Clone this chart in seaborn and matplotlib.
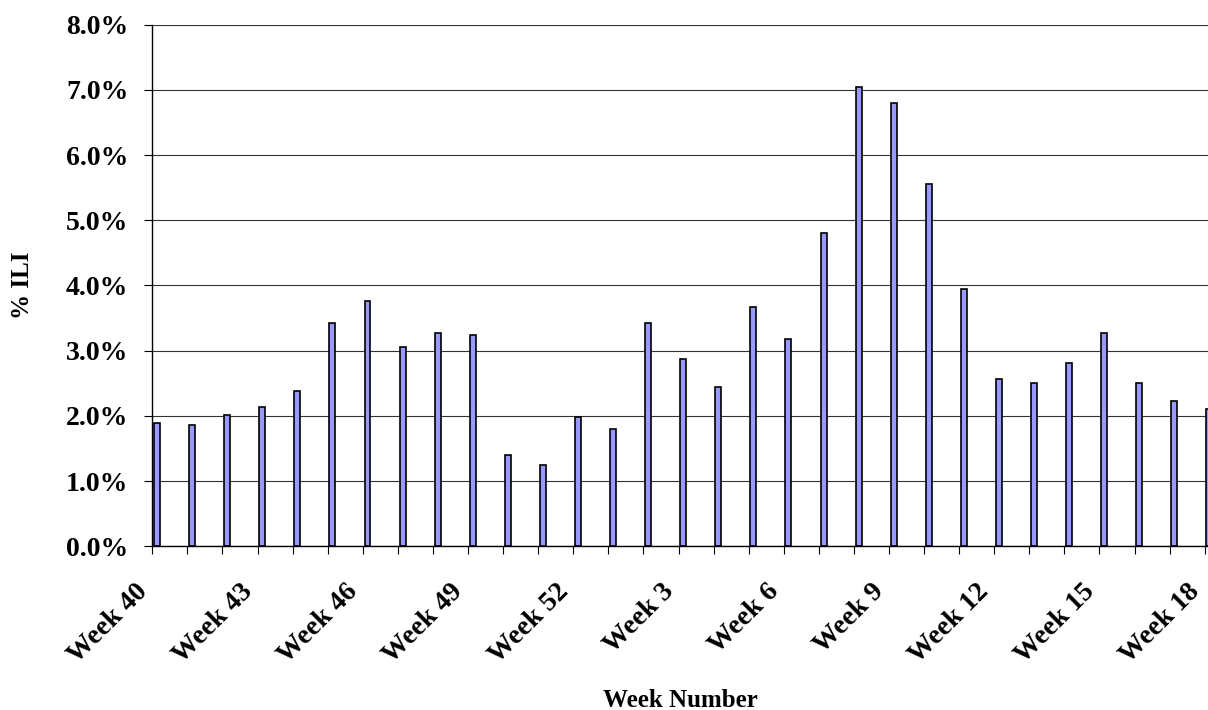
import numpy as np
import pandas as pd
import seaborn as sns
import matplotlib.pyplot as plt
from matplotlib.transforms import ScaledTranslation

# weekly % ILI, flu season week 40 -> week 18
weeks = [f"Week {w}" for w in range(40, 53)] + [f"Week {w}" for w in range(1, 19)]
ili_pct = [1.89, 1.86, 2.01, 2.13, 2.38, 3.42, 3.76, 3.06, 3.27, 3.24,
           1.40, 1.24, 1.98, 1.80, 3.42, 2.87, 2.44, 3.67, 3.18, 4.80,
           7.04, 6.80, 5.55, 3.95, 2.57, 2.50, 2.81, 3.27, 2.50, 2.23, 2.11]
y_ticks = [0, 1, 2, 3, 4, 5, 6, 7, 8]

df = pd.DataFrame({"week": weeks, "ili": ili_pct})

sns.set_style("white")
plt.rcParams["font.family"] = ["Liberation Serif", "DejaVu Serif"]
plt.rcParams["font.weight"] = "bold"
plt.rcParams["text.color"] = "black"
plt.rcParams["axes.labelcolor"] = "black"
plt.rcParams["xtick.color"] = "black"
plt.rcParams["ytick.color"] = "black"

fig = plt.figure(figsize=(12.08, 7.10), dpi=100)
ax = fig.add_axes([0.1261, 0.2306, 0.8739, 0.7346])

sns.barplot(
    data=df,
    x="week",
    y="ili",
    order=weeks,
    color="#9999FF",
    saturation=1,
    width=0.17,
    edgecolor="black",
    linewidth=1.2,
    errorbar=None,
    ax=ax,
)

# excel-like category axis: ticks on the slot boundaries, bar sits at slot's left
off = 0.134
ax.set_xlim(-off, 29.96)
bounds = np.arange(len(weeks)) - off
ax.set_xticks(bounds)
ax.set_xticklabels([w if i % 3 == 0 else "" for i, w in enumerate(weeks)],
                   rotation=45, ha="right", va="top", fontsize=20, fontweight="bold")
shift = ScaledTranslation(-5 / 72, 0, fig.dpi_scale_trans)
for lab in ax.get_xticklabels():
    lab.set_transform(lab.get_transform() + shift)

ax.set_ylim(0, 8)
ax.set_yticks(y_ticks)
ax.set_yticklabels([f"{v:.1f}%" for v in y_ticks], fontsize=20, fontweight="bold")

ax.yaxis.grid(True, color="#333333", linewidth=0.8)
ax.xaxis.grid(False)
ax.set_axisbelow(True)

for s in ["top", "right"]:
    ax.spines[s].set_visible(False)
for s in ["left", "bottom"]:
    ax.spines[s].set_color("black")
    ax.spines[s].set_linewidth(1.0)

ax.tick_params(axis="x", bottom=True, direction="out", length=5.8, width=0.8, color="black", pad=18)
ax.tick_params(axis="y", left=True, direction="out", length=5.8, width=0.8, color="black", pad=11.5)

ax.set_xlabel("Week Number", fontsize=18, fontweight="bold")
ax.xaxis.set_label_coords(0.5, -0.308)
ax.xaxis.label.set_va("baseline")
ax.set_ylabel("% ILI", fontsize=18, fontweight="bold")
ax.yaxis.set_label_coords(-0.1234, 0.5)
ax.yaxis.label.set_va("center")

fig.savefig("out.png", dpi=100)
